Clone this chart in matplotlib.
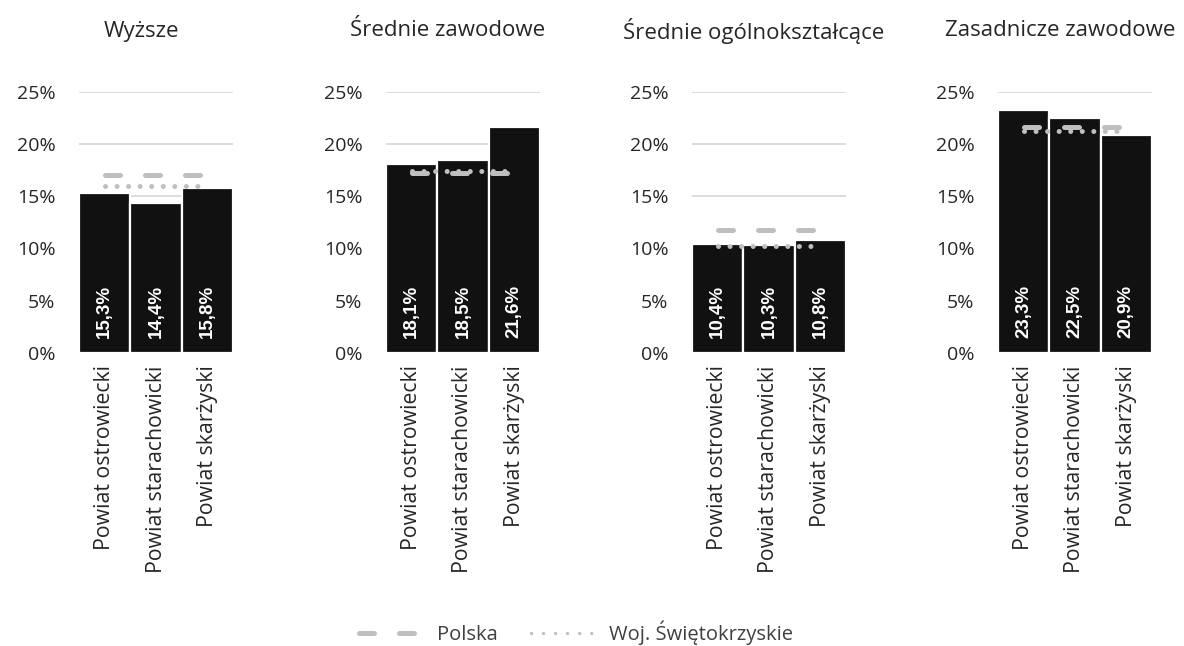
import matplotlib
matplotlib.use("Agg")
import matplotlib.pyplot as plt
from matplotlib.lines import Line2D

plt.rcParams['font.family'] = ['Open Sans', 'DejaVu Sans']

titles = ["Wyższe", "Średnie zawodowe", "Średnie ogólnokształcące", "Zasadnicze zawodowe"]
districts = ["Powiat ostrowiecki", "Powiat starachowicki", "Powiat skarżyski"]
values = [
    [15.3, 14.4, 15.8],
    [18.1, 18.5, 21.6],
    [10.4, 10.3, 10.8],
    [23.3, 22.5, 20.9],
]
polska = [17.0, 17.2, 11.8, 21.6]
woj = [16.0, 17.4, 10.2, 21.3]
yticks = [0, 5, 10, 15, 20, 25]
legend_labels = ["Polska", "Woj. Świętokrzyskie"]

W, H = 1184, 646
fig = plt.figure(figsize=(W / 100, H / 100), dpi=100)

left_px = [79, 386, 692, 998]
ax_w = 154
ax_top, ax_bot = 92, 352.7

bar_color = "#111111"
grid_color = "#d9d9d9"
ref_color = "#bfbfbf"
text_color = "#262626"

for i in range(4):
    ax = fig.add_axes([left_px[i] / W, (H - ax_bot) / H, ax_w / W, (ax_bot - ax_top) / H])
    x = list(range(len(districts)))
    ax.bar(x, values[i], width=1.0, color=bar_color, edgecolor="white", linewidth=1.6, zorder=2)
    ax.plot(x, [polska[i]] * 3, color=ref_color, lw=3.6, dashes=(3.0, 5.0),
            dash_capstyle="round", zorder=3)
    ax.plot(x, [woj[i]] * 3, color=ref_color, lw=3.6, dashes=(0.01, 2.3),
            dash_capstyle="round", zorder=4)
    for xi, v in zip(x, values[i]):
        ax.text(xi, 1.45, f"{v:.1f}%".replace(".", ","), rotation=90, ha="center", va="bottom",
                color="white", fontsize=13.5, fontweight="bold",
                family=["Liberation Sans", "DejaVu Sans"], zorder=5)
    ax.set_xlim(-0.5, 2.5)
    ax.set_ylim(0, 25)
    ax.set_yticks(yticks)
    ax.set_yticklabels([f"{t}%" for t in yticks])
    ax.set_xticks(x)
    ax.set_xticklabels(districts, rotation=90, fontsize=15.3, color=text_color)
    ax.tick_params(axis="y", length=0, pad=17, labelsize=14, labelcolor=text_color)
    ax.tick_params(axis="x", length=0, pad=9)
    for s in ax.spines.values():
        s.set_visible(False)
    ax.grid(axis="y", color=grid_color, lw=1.3, zorder=0)
    ax.set_axisbelow(True)
    ax.axhline(0, color=grid_color, lw=1.3, zorder=1)
    fig.text((left_px[i] + ax_w / 2 - 15) / W, (H - 31) / H, titles[i], ha="center", va="center",
             fontsize=16, color=text_color)

handles = [
    Line2D([], [], color=ref_color, lw=3.6, dashes=(3.0, 5.0), dash_capstyle="round"),
    Line2D([], [], color=ref_color, lw=2.4, dashes=(0.01, 3.6), dash_capstyle="round"),
]
fig.legend(handles, legend_labels, loc="center", bbox_to_anchor=(576 / W, (H - 633) / H),
           ncol=2, frameon=False, fontsize=14.5, handlelength=3.25, columnspacing=1.65,
           handletextpad=0.6, labelcolor="#404040")

fig.savefig("out.png", dpi=100, facecolor="white")
